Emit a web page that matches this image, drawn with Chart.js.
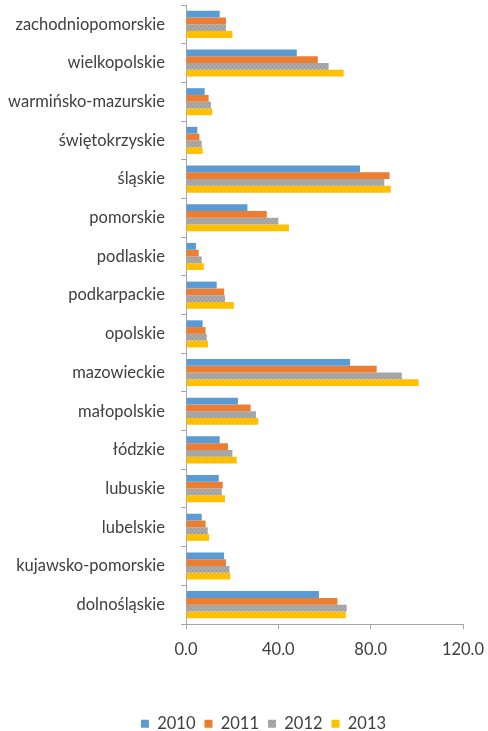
<!DOCTYPE html>
<html lang="pl">
<head>
<meta charset="UTF-8">
<title>Województwa 2010-2013</title>
<script src="https://cdn.jsdelivr.net/npm/chart.js"></script>
<style>
  html, body { margin: 0; padding: 0; background: #fff; }
  #wrap { width: 488px; height: 731px; }
</style>
</head>
<body>
<div id="wrap"><canvas id="chart" width="488" height="731"></canvas></div>
<script>
  const regions = ['zachodniopomorskie', 'wielkopolskie', 'warmińsko-mazurskie', 'świętokrzyskie',
    'śląskie', 'pomorskie', 'podlaskie', 'podkarpackie', 'opolskie', 'mazowieckie',
    'małopolskie', 'łódzkie', 'lubuskie', 'lubelskie', 'kujawsko-pomorskie', 'dolnośląskie'];

  const v2010 = [14.6, 48.0, 8.1, 4.9, 75.4, 26.6, 4.3, 13.3, 7.2, 71.1, 22.5, 14.6, 14.2, 6.8, 16.5, 57.6];
  const v2011 = [17.3, 57.1, 9.8, 5.8, 88.2, 35.0, 5.5, 16.5, 8.5, 82.6, 28.0, 18.2, 15.9, 8.5, 17.3, 65.6];
  const v2012 = [17.3, 61.8, 10.8, 6.8, 85.9, 40.0, 6.8, 16.9, 9.0, 93.5, 30.3, 20.1, 15.5, 9.4, 18.8, 69.6];
  const v2013 = [20.1, 68.3, 11.4, 7.2, 88.7, 44.6, 7.7, 20.7, 9.5, 100.8, 31.3, 22.0, 16.9, 10.0, 19.2, 69.2];

  const xTicks = [0, 40, 80, 120];

  // dotted grey fill for the 2012 series
  function dotPattern() {
    const c = document.createElement('canvas');
    c.width = 4; c.height = 4;
    const g = c.getContext('2d');
    g.fillStyle = '#a5a5a5';
    g.fillRect(0, 0, 4, 4);
    g.fillStyle = '#b8b8b8';
    g.fillRect(0, 0, 1, 1);
    g.fillRect(2, 2, 1, 1);
    g.fillStyle = '#989898';
    g.fillRect(2, 0, 1, 1);
    g.fillRect(0, 2, 1, 1);
    return g.createPattern(c, 'repeat');
  }

  const textColor = '#404040';
  const axisColor = '#a6a6a6';
  const font = { family: 'Lato, "Open Sans", sans-serif', size: 16.5 };

  const bar = { categoryPercentage: 0.7, barPercentage: 1.0 };

  // legend sits a bit right of the canvas centre
  const legendShift = {
    id: 'legendShift',
    afterLayout(chart) {
      const l = chart.legend;
      l.left += 32;
      l.right += 32;
    }
  };

  new Chart(document.getElementById('chart'), {
    type: 'bar',
    data: {
      labels: regions,
      datasets: [
        { label: '2010', data: v2010, backgroundColor: '#5b9bd5', ...bar },
        { label: '2011', data: v2011, backgroundColor: '#ed7d31', ...bar },
        { label: '2012', data: v2012, backgroundColor: dotPattern(), ...bar },
        { label: '2013', data: v2013, backgroundColor: '#ffc000', ...bar }
      ]
    },
    options: {
      indexAxis: 'y',
      responsive: false,
      animation: false,
      layout: { padding: { top: 5, right: 25, bottom: -11, left: 0 } },
      scales: {
        x: {
          min: 0,
          max: 120,
          afterBuildTicks: s => { s.ticks = xTicks.map(v => ({ value: v })); },
          afterFit: s => { s.height = 82.5; s.paddingLeft = 0; s.paddingRight = 0; },
          border: { color: axisColor },
          grid: { drawOnChartArea: false, color: axisColor, tickLength: 5 },
          ticks: { color: textColor, font: font, padding: 11, callback: v => v.toFixed(1) }
        },
        y: {
          afterFit: s => { s.width = 186; s.paddingTop = 0; s.paddingBottom = 0; },
          border: { color: axisColor },
          grid: { drawOnChartArea: false, color: axisColor, tickLength: 5, offset: true },
          ticks: { color: textColor, font: font, padding: 16, autoSkip: false }
        }
      },
      plugins: {
        legend: {
          position: 'bottom',
          labels: { color: textColor, font: font, boxWidth: 8, boxHeight: 8, padding: 9 }
        },
        tooltip: { enabled: false }
      }
    },
    plugins: [legendShift]
  });
</script>
</body>
</html>
